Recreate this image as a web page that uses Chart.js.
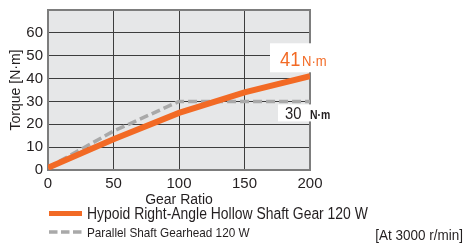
<!DOCTYPE html>
<html>
<head>
<meta charset="utf-8">
<script src="https://cdn.jsdelivr.net/npm/chart.js@4"></script>
<style>
  html, body { margin: 0; padding: 0; background: #fff; }
  #wrap { width: 465px; height: 245px; position: relative; }
</style>
</head>
<body>
<div id="wrap"><canvas id="grafico"></canvas></div>
<script>
// valores
const razoes = [0, 50, 100, 150, 200];
const hipoide = [1, 13.5, 25, 34, 41];
const paralelo = [1, 17, 30, 30, 30];
const rotulos = ['Hypoid Right-Angle Hollow Shaft Gear 120 W', 'Parallel Shaft Gearhead 120 W'];
const xTicks = [0, 50, 100, 150, 200];
const yTicks = [0, 10, 20, 30, 40, 50, 60];

const FONTE = "'Liberation Sans', Arial, sans-serif";
const LARANJA = '#f26a25';
const CINZA = '#a9a9a9';
const ESTREITO = 0.87; // imita a fonte condensada do original

function pontos(vals) {
    return razoes.map((r, i) => ({ x: r, y: vals[i] }));
}

// texto comprimido na horizontal
function textoEstreito(ctx, txt, x, y, alinhar) {
    ctx.save();
    let w = ctx.measureText(txt).width * ESTREITO;
    let x0 = alinhar === 'right' ? x - w : x;
    ctx.translate(x0, y);
    ctx.scale(ESTREITO, 1);
    ctx.textAlign = 'left';
    ctx.fillText(txt, 0, 0);
    ctx.restore();
    return w;
}

// fundo cinza e moldura da area do grafico
const fundo = {
    id: 'fundo',
    beforeDraw(chart) {
        const { ctx, chartArea: a } = chart;
        ctx.save();
        ctx.fillStyle = '#e6e7e8';
        ctx.fillRect(a.left, a.top, a.right - a.left, a.bottom - a.top);
        ctx.restore();
    },
    beforeDatasetsDraw(chart) {
        const { ctx, chartArea: a } = chart;
        ctx.save();
        ctx.strokeStyle = '#7d7d7d';
        ctx.lineWidth = 2;
        ctx.strokeRect(a.left, a.top, a.right - a.left, a.bottom - a.top);
        ctx.restore();
    }
};

// rotulos 41 N·m e 30 N·m
const notas = {
    id: 'notas',
    afterDatasetsDraw(chart) {
        const { ctx, scales: { x, y } } = chart;
        const px = x.getPixelForValue(200);
        ctx.save();
        ctx.textBaseline = 'alphabetic';
        // 41 N·m
        let y41 = y.getPixelForValue(hipoide[hipoide.length - 1]);
        ctx.fillStyle = '#ffffff';
        ctx.fillRect(px - 40, y41 - 33, 76, 29);
        ctx.fillStyle = LARANJA;
        ctx.font = '21px ' + FONTE;
        textoEstreito(ctx, '41', px - 30, y41 - 10);
        ctx.font = '15px ' + FONTE;
        textoEstreito(ctx, 'N·m', px - 8, y41 - 10);
        // 30 N·m
        let y30 = y.getPixelForValue(paralelo[paralelo.length - 1]);
        ctx.fillStyle = '#ffffff';
        ctx.fillRect(px - 32, y30 + 3, 65, 17);
        ctx.fillStyle = '#231f20';
        ctx.font = '17px ' + FONTE;
        textoEstreito(ctx, '30', px - 25, y30 + 17.5);
        ctx.font = 'bold 12px ' + FONTE;
        textoEstreito(ctx, 'N·m', px, y30 + 17.5);
        ctx.restore();
    }
};

// legenda desenhada a mao
const legenda = {
    id: 'legenda',
    afterDraw(chart) {
        const { ctx } = chart;
        const ds = chart.data.datasets;
        ctx.save();
        ctx.lineCap = 'butt';
        ctx.textBaseline = 'alphabetic';
        // linha 1
        ctx.strokeStyle = ds[0].borderColor;
        ctx.lineWidth = 5;
        ctx.beginPath();
        ctx.moveTo(49, 213.5);
        ctx.lineTo(82, 213.5);
        ctx.stroke();
        ctx.fillStyle = '#231f20';
        ctx.font = '16px ' + FONTE;
        textoEstreito(ctx, ds[0].label, 87, 219);
        // linha 2
        ctx.strokeStyle = ds[1].borderColor;
        ctx.lineWidth = 3.5;
        ctx.setLineDash([8.5, 3.5]);
        ctx.beginPath();
        ctx.moveTo(49, 232);
        ctx.lineTo(82, 232);
        ctx.stroke();
        ctx.setLineDash([]);
        ctx.font = '13.5px ' + FONTE;
        textoEstreito(ctx, ds[1].label, 87, 237);
        // rotacao
        ctx.font = '15.5px ' + FONTE;
        textoEstreito(ctx, '[At 3000 r/min]', 463, 240, 'right');
        ctx.restore();
    }
};

const ctx = document.getElementById('grafico');
const myChart = new Chart(ctx, {
    type: 'line',
    data: {
        datasets: [{
            label: rotulos[0],
            data: pontos(hipoide),
            borderColor: LARANJA,
            borderWidth: 6,
            pointRadius: 0,
            tension: 0,
            order: 1
        }, {
            label: rotulos[1],
            data: pontos(paralelo),
            borderColor: CINZA,
            borderWidth: 3.5,
            borderDash: [9, 4],
            pointRadius: 0,
            tension: 0,
            order: 2
        }]
    },
    options: {
        responsive: true,
        maintainAspectRatio: false,
        animation: false,
        layout: {
            padding: { left: 0, top: 10, right: 155, bottom: 38 }
        },
        scales: {
            x: {
                type: 'linear',
                min: 0,
                max: 200,
                afterBuildTicks: (s) => { s.ticks = xTicks.map(v => ({ value: v })); },
                afterFit: (s) => { s.height = 37; s.paddingLeft = 0; s.paddingRight = 0; },
                grid: { color: '#3d3d3d', lineWidth: 1, drawTicks: false },
                border: { display: false },
                ticks: {
                    color: '#231f20',
                    padding: 5,
                    maxRotation: 0,
                    font: { family: FONTE, size: 15 }
                },
                title: {
                    display: true,
                    text: 'Gear Ratio',
                    color: '#231f20',
                    padding: { top: 0, bottom: -2 },
                    font: { family: FONTE, size: 14 }
                }
            },
            y: {
                min: 0,
                max: 70,
                afterBuildTicks: (s) => { s.ticks = yTicks.concat([70]).map(v => ({ value: v })); },
                afterFit: (s) => { s.width = 48; s.paddingTop = 0; s.paddingBottom = 0; },
                grid: { color: '#3d3d3d', lineWidth: 1, drawTicks: false },
                border: { display: false },
                ticks: {
                    color: '#231f20',
                    padding: 5,
                    font: { family: FONTE, size: 15 },
                    callback: (v) => (yTicks.includes(v) ? v : '')
                },
                title: {
                    display: true,
                    text: 'Torque [N·m]',
                    color: '#231f20',
                    padding: { top: 8, bottom: 0 },
                    font: { family: FONTE, size: 14 }
                }
            }
        },
        plugins: {
            legend: { display: false },
            tooltip: { enabled: false }
        }
    },
    plugins: [fundo, notas, legenda]
});
</script>
</body>
</html>
